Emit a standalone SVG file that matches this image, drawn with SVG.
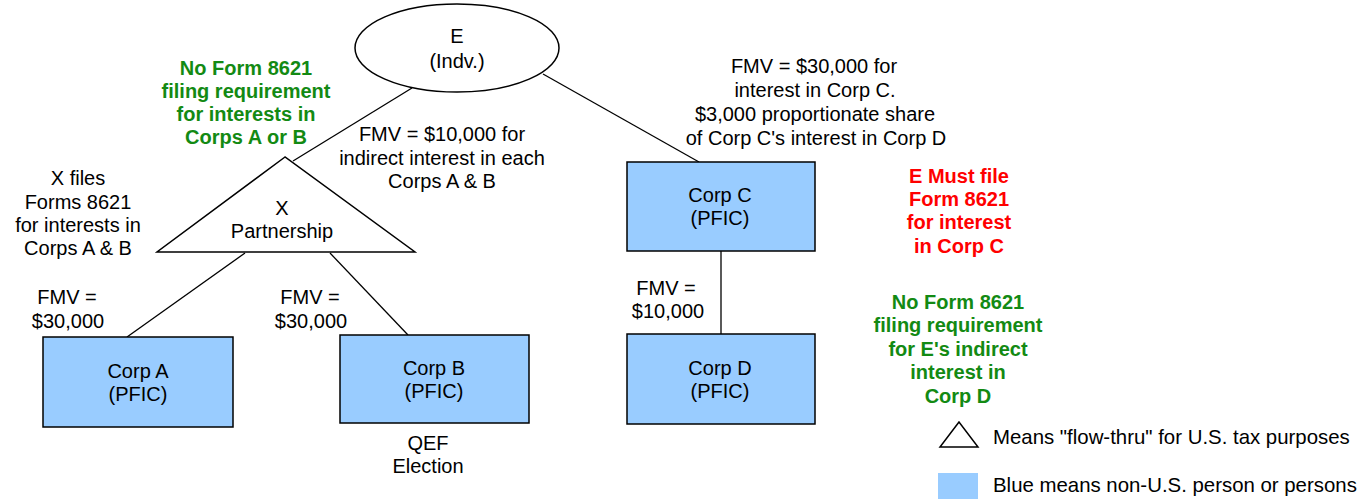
<svg xmlns="http://www.w3.org/2000/svg" width="1364" height="499" viewBox="0 0 1364 499">
<style>
text{font-family:"Liberation Sans",Arial,sans-serif;font-size:20px;fill:#000;text-anchor:middle}
.b{font-weight:bold}
.g{fill:#138a13}
.r{fill:#ff0000}
.l{text-anchor:start;font-size:20.4px}
.box{fill:#99ccff;stroke:#000;stroke-width:1.5}
.sh{fill:#fff;stroke:#000;stroke-width:1.5}
.c{stroke:#000;stroke-width:1.3;fill:none}
</style>
<rect width="1364" height="499" fill="#fff"/>
<g id="connectors">
<line class="c" x1="412" y1="88" x2="293" y2="161"/>
<line class="c" x1="543" y1="74" x2="699" y2="162"/>
<line class="c" x1="245" y1="253" x2="127" y2="337"/>
<line class="c" x1="330" y1="253" x2="408" y2="335"/>
<line class="c" x1="721" y1="251" x2="721" y2="334"/>
</g>
<g id="nodeE">
<ellipse class="sh" cx="457" cy="48" rx="102" ry="44"/>
<text x="457" y="43">E</text>
<text x="457" y="68">(Indv.)</text>
</g>
<g id="nodeX">
<polygon class="sh" points="285,157 157,252 415,252"/>
<text x="282" y="215">X</text>
<text x="282" y="238">Partnership</text>
</g>
<g id="nodeA">
<rect class="box" x="43" y="337" width="190" height="90"/>
<text x="138" y="378">Corp A</text>
<text x="138" y="401">(PFIC)</text>
</g>
<g id="nodeB">
<rect class="box" x="340" y="335" width="189" height="88"/>
<text x="434" y="375">Corp B</text>
<text x="434" y="398">(PFIC)</text>
</g>
<g id="nodeC">
<rect class="box" x="627" y="162" width="188" height="89"/>
<text x="720" y="202">Corp C</text>
<text x="720" y="225">(PFIC)</text>
</g>
<g id="nodeD">
<rect class="box" x="627" y="334" width="188" height="90"/>
<text x="720" y="375">Corp D</text>
<text x="720" y="398">(PFIC)</text>
</g>
<g id="labels">
<text class="b g" x="246" y="75">No Form 8621</text>
<text class="b g" x="246" y="98">filing requirement</text>
<text class="b g" x="246" y="121">for interests in</text>
<text class="b g" x="246" y="144">Corps A or B</text>
<text x="442" y="141">FMV = $10,000 for</text>
<text x="442" y="165">indirect interest in each</text>
<text x="442" y="188">Corps A &amp; B</text>
<text x="78" y="185">X files</text>
<text x="78" y="209">Forms 8621</text>
<text x="78" y="232">for interests in</text>
<text x="78" y="255">Corps A &amp; B</text>
<text x="814" y="73">FMV = $30,000 for</text>
<text x="815" y="97">interest in Corp C.</text>
<text x="815" y="121">$3,000 proportionate share</text>
<text x="816" y="145">of Corp C's interest in Corp D</text>
<text class="b r" x="959" y="183">E Must file</text>
<text class="b r" x="959" y="206">Form 8621</text>
<text class="b r" x="959" y="229">for interest</text>
<text class="b r" x="959" y="253">in Corp C</text>
<text class="b g" x="958" y="309">No Form 8621</text>
<text class="b g" x="958" y="332">filing requirement</text>
<text class="b g" x="958" y="356">for E's indirect</text>
<text class="b g" x="958" y="379">interest in</text>
<text class="b g" x="958" y="403">Corp D</text>
<text x="67" y="304">FMV =</text>
<text x="68" y="328">$30,000</text>
<text x="310" y="304">FMV =</text>
<text x="311" y="328">$30,000</text>
<text x="666" y="295">FMV =</text>
<text x="668" y="318">$10,000</text>
<text x="428" y="450">QEF</text>
<text x="428" y="473">Election</text>
</g>
<g id="legend">
<polygon class="sh" points="959,422 940,447 978,447"/>
<text class="l" x="993" y="444">Means "flow-thru" for U.S. tax purposes</text>
<rect x="938" y="473" width="40" height="26" fill="#99ccff"/>
<text class="l" x="993" y="492">Blue means non-U.S. person or persons</text>
</g>
</svg>
